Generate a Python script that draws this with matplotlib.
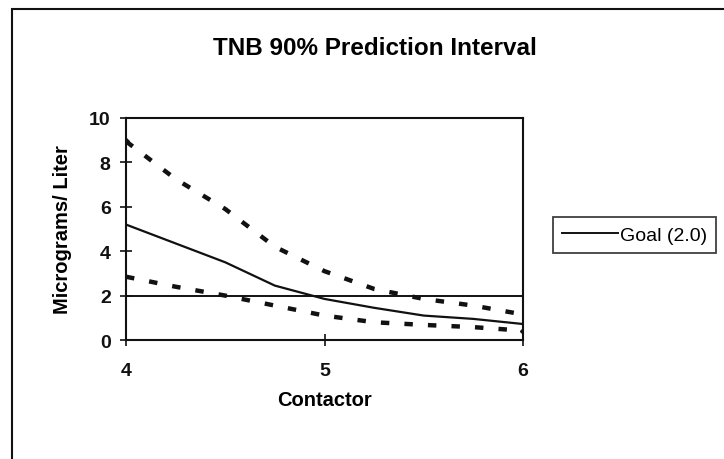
import matplotlib.pyplot as plt
from matplotlib.patches import Rectangle

contactor = [4.0, 4.25, 4.5, 4.75, 5.0, 5.25, 5.5, 5.75, 6.0]
predicted = [5.2, 4.35, 3.5, 2.45, 1.85, 1.45, 1.1, 0.95, 0.72]
upper_90 = [8.95, 7.25, 5.9, 4.2, 3.1, 2.3, 1.85, 1.55, 1.15]
lower_90 = [2.85, 2.4, 2.0, 1.55, 1.1, 0.8, 0.68, 0.58, 0.42]
goal = 2.0
x_ticks = [4, 5, 6]
y_ticks = [0, 2, 4, 6, 8, 10]

plt.rcParams['font.family'] = ['Liberation Sans', 'DejaVu Sans']
ink = '#111111'

fig = plt.figure(figsize=(7.24, 4.6), dpi=100)
fig.patches.append(Rectangle((12 / 724, -0.1), 1.2, 1 - 10 / 460 + 0.1,
                             transform=fig.transFigure, fill=False,
                             edgecolor=ink, linewidth=1.5))

ax = fig.add_axes([126 / 724, 1 - 341 / 460, (523 - 126) / 724, (341 - 119) / 460])

ax.plot(contactor, upper_90, color=ink, linewidth=3.2, dashes=(1.9, 3.4),
        dash_capstyle='butt', marker='D', markersize=3, markevery=[0])
ax.plot(contactor, lower_90, color=ink, linewidth=3.2, dashes=(1.9, 3.4),
        dash_capstyle='butt', marker='D', markersize=3, markevery=[-1])
ax.plot(contactor, predicted, color=ink, linewidth=1.6)
ax.plot([contactor[0], contactor[-1]], [goal, goal], color=ink, linewidth=1.4,
        label='Goal (2.0)')

ax.set_xlim(4, 6)
ax.set_ylim(0, 10)
ax.set_xticks(x_ticks)
ax.set_yticks(y_ticks)
ax.tick_params(direction='inout', length=8, width=1.2, colors=ink,
               labelsize=14)
ax.tick_params(axis='x', pad=12)
ax.tick_params(axis='y', pad=7)
for lab in ax.get_xticklabels() + ax.get_yticklabels():
    lab.set_fontweight('bold')
for sp in ax.spines.values():
    sp.set_linewidth(1.5)
    sp.set_color(ink)

ax.set_xlabel('Contactor', fontsize=14.5, fontweight='bold', labelpad=8)
ax.set_ylabel('Micrograms/ Liter', fontsize=14.5, fontweight='bold', labelpad=12)

fig.text(375 / 724, 1 - 49 / 460, 'TNB 90% Prediction Interval',
         ha='center', va='center', fontsize=17.5, fontweight='bold')

leg = ax.legend(loc='center left', bbox_to_anchor=(553 / 724, 1 - 236 / 460),
                bbox_transform=fig.transFigure, frameon=True, fancybox=False,
                fontsize=14, handlelength=2.9, handletextpad=0.1,
                borderpad=0.45, borderaxespad=0)
leg.get_frame().set_edgecolor(ink)
leg.get_frame().set_linewidth(1.3)

fig.savefig('out.png', dpi=100)
